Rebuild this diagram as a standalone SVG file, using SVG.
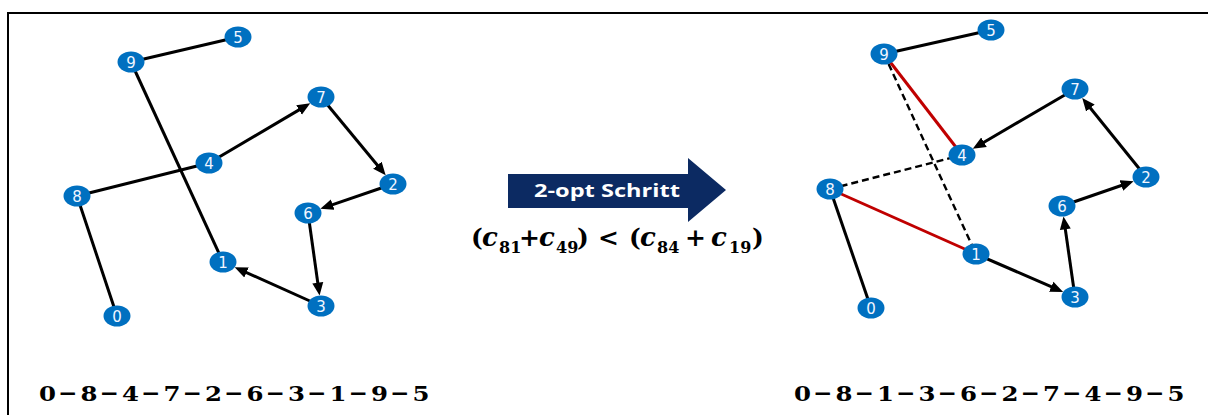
<svg xmlns="http://www.w3.org/2000/svg" width="1208" height="415" viewBox="0 0 1208 415">
  <style>
    .frame { fill: none; stroke: #000; stroke-width: 2; }
    .edge { stroke: #000; stroke-width: 3; fill: none; stroke-linecap: butt; }
    .arrow { stroke: #000; stroke-width: 3; fill: none; marker-end: url(#ah); }
    .new { stroke: #c00000; stroke-width: 3; fill: none; }
    .old { stroke: #000; stroke-width: 2.4; fill: none; stroke-dasharray: 7 4; }
    .node ellipse { fill: #0070c0; }
    .node text { fill: #f2f6ff; font-family: "DejaVu Sans", sans-serif; font-size: 15px; text-anchor: middle; }
    .step { fill: #fff; font-family: "Open Sans", "Liberation Sans", sans-serif; font-weight: 700; font-size: 17px; }
    .math { font-family: "DejaVu Serif", "Liberation Serif", serif; font-weight: 700; fill: #000; }
    .mi { font-style: italic; font-size: 26px; }
    .mo { font-size: 25px; }
    .sub { font-size: 16px; }
    .seq { font-family: "DejaVu Serif", "Liberation Serif", serif; font-weight: 700; font-size: 21px; fill: #000; }
    .seq .op { font-family: "DejaVu Sans", sans-serif; font-size: 23px; }
  </style>
  <defs>
    <marker id="ah" viewBox="0 -6 14 12" markerWidth="14" markerHeight="12" refX="3" refY="0" orient="auto" markerUnits="userSpaceOnUse">
      <path d="M0,-5.5 L13,0 L0,5.5 z" fill="#000"/>
    </marker>
  </defs>

  <rect class="frame" x="8" y="13" width="1210" height="420"/>

  <!-- tour edges -->
  <g id="connectors">
    <!-- before: 0-8-4-7-2-6-3-1-9-5 -->
    <line class="edge" x1="117" y1="316" x2="77" y2="196"/>
    <line class="edge" x1="77" y1="196" x2="209" y2="163"/>
    <line class="arrow" x1="209" y1="163" x2="301.6" y2="108.4"/>
    <line class="arrow" x1="321" y1="97" x2="379.3" y2="167.5"/>
    <line class="arrow" x1="393" y1="184" x2="329.8" y2="205.6"/>
    <line class="arrow" x1="308" y1="213" x2="318.2" y2="285.7"/>
    <line class="arrow" x1="321" y1="306" x2="243.8" y2="271.3"/>
    <line class="edge" x1="223" y1="262" x2="131" y2="62"/>
    <line class="edge" x1="131" y1="62" x2="238" y2="37"/>

    <!-- after: 0-8-1-3-6-2-7-4-9-5 -->
    <line class="old" x1="830" y1="189" x2="962" y2="155"/>
    <line class="old" x1="884" y1="54" x2="976" y2="254"/>
    <line class="edge" x1="871" y1="308" x2="830" y2="189"/>
    <line class="new" x1="830" y1="189" x2="976" y2="254"/>
    <line class="arrow" x1="976" y1="254" x2="1054" y2="287.9"/>
    <line class="arrow" x1="1075" y1="297" x2="1064.9" y2="226.3"/>
    <line class="arrow" x1="1062" y1="206" x2="1124.2" y2="184.5"/>
    <line class="arrow" x1="1146" y1="177" x2="1088.5" y2="105.7"/>
    <line class="arrow" x1="1075" y1="89" x2="981.4" y2="143.7"/>
    <line class="new" x1="962" y1="155" x2="884" y2="54"/>
    <line class="edge" x1="884" y1="54" x2="991" y2="30"/>
  </g>

  <!-- nodes, before -->
  <g id="a0" class="node"><ellipse cx="117" cy="316" rx="13.5" ry="10.5"/><text x="117" y="321.5">0</text></g>
  <g id="a1" class="node"><ellipse cx="223" cy="262" rx="13.5" ry="10.5"/><text x="223" y="267.5">1</text></g>
  <g id="a2" class="node"><ellipse cx="393" cy="184" rx="13.5" ry="10.5"/><text x="393" y="189.5">2</text></g>
  <g id="a3" class="node"><ellipse cx="321" cy="306" rx="13.5" ry="10.5"/><text x="321" y="311.5">3</text></g>
  <g id="a4" class="node"><ellipse cx="209" cy="163" rx="13.5" ry="10.5"/><text x="209" y="168.5">4</text></g>
  <g id="a5" class="node"><ellipse cx="238" cy="37" rx="13.5" ry="10.5"/><text x="238" y="42.5">5</text></g>
  <g id="a6" class="node"><ellipse cx="308" cy="213" rx="13.5" ry="10.5"/><text x="308" y="218.5">6</text></g>
  <g id="a7" class="node"><ellipse cx="321" cy="97" rx="13.5" ry="10.5"/><text x="321" y="102.5">7</text></g>
  <g id="a8" class="node"><ellipse cx="77" cy="196" rx="13.5" ry="10.5"/><text x="77" y="201.5">8</text></g>
  <g id="a9" class="node"><ellipse cx="131" cy="62" rx="13.5" ry="10.5"/><text x="131" y="67.5">9</text></g>

  <!-- nodes, after -->
  <g id="b0" class="node"><ellipse cx="871" cy="308" rx="13.5" ry="10.5"/><text x="871" y="313.5">0</text></g>
  <g id="b1" class="node"><ellipse cx="976" cy="254" rx="13.5" ry="10.5"/><text x="976" y="259.5">1</text></g>
  <g id="b2" class="node"><ellipse cx="1146" cy="177" rx="13.5" ry="10.5"/><text x="1146" y="182.5">2</text></g>
  <g id="b3" class="node"><ellipse cx="1075" cy="297" rx="13.5" ry="10.5"/><text x="1075" y="302.5">3</text></g>
  <g id="b4" class="node"><ellipse cx="962" cy="155" rx="13.5" ry="10.5"/><text x="962" y="160.5">4</text></g>
  <g id="b5" class="node"><ellipse cx="991" cy="30" rx="13.5" ry="10.5"/><text x="991" y="35.5">5</text></g>
  <g id="b6" class="node"><ellipse cx="1062" cy="206" rx="13.5" ry="10.5"/><text x="1062" y="211.5">6</text></g>
  <g id="b7" class="node"><ellipse cx="1075" cy="89" rx="13.5" ry="10.5"/><text x="1075" y="94.5">7</text></g>
  <g id="b8" class="node"><ellipse cx="830" cy="189" rx="13.5" ry="10.5"/><text x="830" y="194.5">8</text></g>
  <g id="b9" class="node"><ellipse cx="884" cy="54" rx="13.5" ry="10.5"/><text x="884" y="59.5">9</text></g>

  <!-- step arrow with cost condition -->
  <g id="step">
    <polygon points="508,174 688,174 688,158 726,190 688,222 688,208 508,208" fill="#0c2a62"/>
    <text class="step" x="534" y="197" textLength="146" lengthAdjust="spacingAndGlyphs">2-opt Schritt</text>
  </g>
  <g id="condition">
    <text class="math">
      <tspan class="mo" x="471" y="246">(</tspan><tspan class="mi" x="482" y="246">c</tspan><tspan class="sub" x="499" y="253">81</tspan><tspan class="mo" x="519" y="246">+</tspan><tspan class="mi" x="539" y="246">c</tspan><tspan class="sub" x="556" y="253">49</tspan><tspan class="mo" x="577" y="246">)</tspan><tspan class="mo" x="598" y="246">&lt;</tspan><tspan class="mo" x="629" y="246">(</tspan><tspan class="mi" x="640" y="246">c</tspan><tspan class="sub" x="657" y="253">84</tspan><tspan class="mo" x="685" y="246">+</tspan><tspan class="mi" x="711" y="246">c</tspan><tspan class="sub" x="729" y="253">19</tspan><tspan class="mo" x="752" y="246">)</tspan>
    </text>
  </g>

  <!-- tour sequences: digits widened slightly via textLength -->
  <g id="tour-before">
    <text class="seq" y="401"><tspan x="39" textLength="17" lengthAdjust="spacingAndGlyphs">0</tspan><tspan class="op" x="58">−</tspan><tspan x="80.5" textLength="17" lengthAdjust="spacingAndGlyphs">8</tspan><tspan class="op" x="99.5">−</tspan><tspan x="122" textLength="17" lengthAdjust="spacingAndGlyphs">4</tspan><tspan class="op" x="141">−</tspan><tspan x="163.5" textLength="17" lengthAdjust="spacingAndGlyphs">7</tspan><tspan class="op" x="182.5">−</tspan><tspan x="205" textLength="17" lengthAdjust="spacingAndGlyphs">2</tspan><tspan class="op" x="224">−</tspan><tspan x="246.5" textLength="17" lengthAdjust="spacingAndGlyphs">6</tspan><tspan class="op" x="265.5">−</tspan><tspan x="288" textLength="17" lengthAdjust="spacingAndGlyphs">3</tspan><tspan class="op" x="307">−</tspan><tspan x="329.5" textLength="17" lengthAdjust="spacingAndGlyphs">1</tspan><tspan class="op" x="348.5">−</tspan><tspan x="371" textLength="17" lengthAdjust="spacingAndGlyphs">9</tspan><tspan class="op" x="390">−</tspan><tspan x="412.5" textLength="17" lengthAdjust="spacingAndGlyphs">5</tspan></text>
  </g>
  <g id="tour-after">
    <text class="seq" y="401"><tspan x="794" textLength="17" lengthAdjust="spacingAndGlyphs">0</tspan><tspan class="op" x="813">−</tspan><tspan x="835.5" textLength="17" lengthAdjust="spacingAndGlyphs">8</tspan><tspan class="op" x="854.5">−</tspan><tspan x="877" textLength="17" lengthAdjust="spacingAndGlyphs">1</tspan><tspan class="op" x="896">−</tspan><tspan x="918.5" textLength="17" lengthAdjust="spacingAndGlyphs">3</tspan><tspan class="op" x="937.5">−</tspan><tspan x="960" textLength="17" lengthAdjust="spacingAndGlyphs">6</tspan><tspan class="op" x="979">−</tspan><tspan x="1001.5" textLength="17" lengthAdjust="spacingAndGlyphs">2</tspan><tspan class="op" x="1020.5">−</tspan><tspan x="1043" textLength="17" lengthAdjust="spacingAndGlyphs">7</tspan><tspan class="op" x="1062">−</tspan><tspan x="1084.5" textLength="17" lengthAdjust="spacingAndGlyphs">4</tspan><tspan class="op" x="1103.5">−</tspan><tspan x="1126" textLength="17" lengthAdjust="spacingAndGlyphs">9</tspan><tspan class="op" x="1145">−</tspan><tspan x="1167.5" textLength="17" lengthAdjust="spacingAndGlyphs">5</tspan></text>
  </g>
</svg>
